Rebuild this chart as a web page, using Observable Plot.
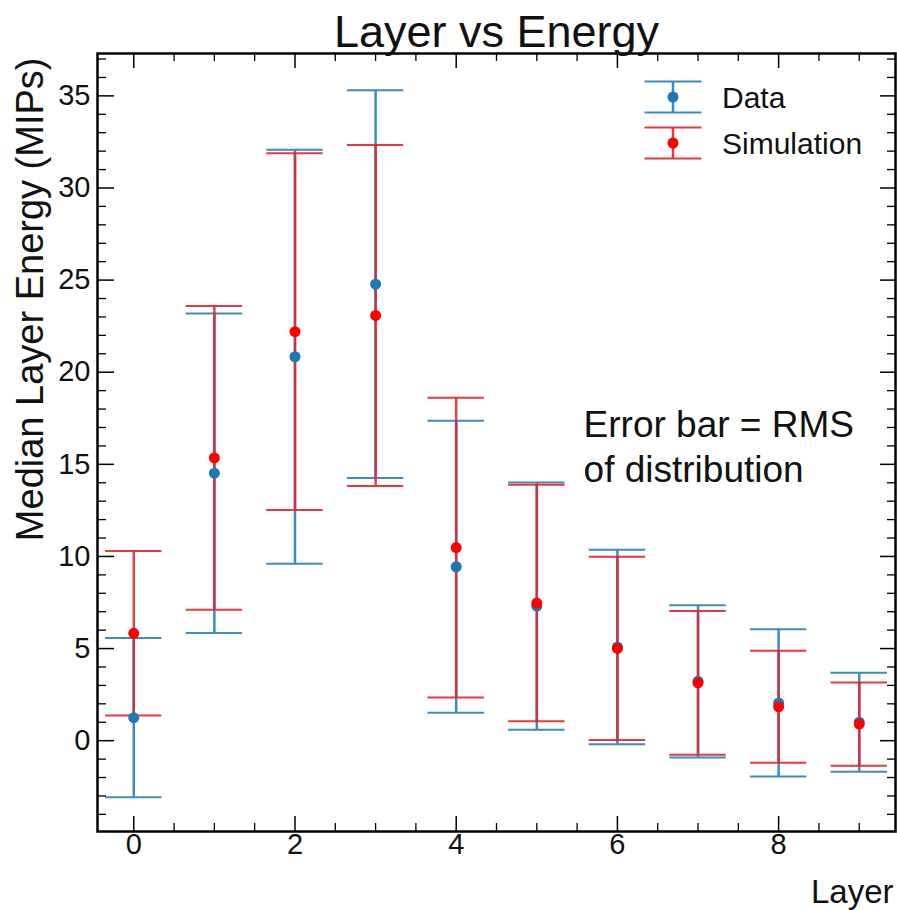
<!DOCTYPE html>
<html>
<head>
<meta charset="utf-8">
<script src="https://cdn.jsdelivr.net/npm/d3@7"></script>
<script src="https://cdn.jsdelivr.net/npm/@observablehq/plot@0.6"></script>
<style>
  html, body { margin: 0; padding: 0; background: white; }
  #chart { width: 897px; height: 910px; }
</style>
</head>
<body>
<div id="chart"></div>
<script>
// ---- data ----
const layers = [0, 1, 2, 3, 4, 5, 6, 7, 8, 9];
const dataMedian = [1.25, 14.52, 20.84, 24.78, 9.44, 7.3, 5.08, 3.22, 2.05, 1.0];
const dataRMS    = [4.32, 8.67, 11.24, 10.52, 7.93, 6.71, 5.28, 4.13, 4.0, 2.69];
const simMedian  = [5.83, 15.35, 22.2, 23.08, 10.48, 7.47, 5.01, 3.14, 1.84, 0.9];
const simRMS     = [4.46, 8.25, 9.68, 9.26, 8.13, 6.42, 4.97, 3.9, 3.04, 2.26];
const seriesNames = ["Data", "Simulation"];
const xTickLabels = [0, 2, 4, 6, 8];
const yTickLabels = [0, 5, 10, 15, 20, 25, 30, 35];
const xMinorTicks = [0.5, 1, 1.5, 2.5, 3, 3.5, 4.5, 5, 5.5, 6.5, 7, 7.5, 8.5, 9];
const yMinorTicks = d3.range(-4, 38).filter(v => v % 5 !== 0);
const annotations = [
  {x: 5.58, y: 17.1, text: "Error bar = RMS"},
  {x: 5.58, y: 14.71, text: "of distribution"}
];
const titleText = "Layer vs Energy";
const xLabel = "Layer";
const yLabel = "Median Layer Energy (MIPs)";

// ---- styles ----
const colors = {
  dataDot: "#1f77b4", dataBar: "#3b8cc2",
  simDot: "#ff0000", simBar: "#e3232b"
};
const W = 897, H = 910;
const mL = 97, mR = 2, mT = 53, mB = 79;
const fw = W - mL - mR, fh = H - mT - mB;
const capHalf = 0.35;
const dotR = 5.5;
const font = "'Liberation Sans', Arial, Helvetica, sans-serif";

// ---- tables built from arrays ----
const rows = layers.map((l, i) => ({
  layer: l,
  dMed: dataMedian[i], dRms: dataRMS[i],
  sMed: simMedian[i], sRms: simRMS[i]
}));
const dataCaps = rows.flatMap(r => [
  {layer: r.layer, v: r.dMed - r.dRms}, {layer: r.layer, v: r.dMed + r.dRms}]);
const simCaps = rows.flatMap(r => [
  {layer: r.layer, v: r.sMed - r.sRms}, {layer: r.layer, v: r.sMed + r.sRms}]);

// legend drawn as a custom render mark
function legendMark() {
  const g = d3.create("svg:g").attr("font-family", font);
  const items = [
    {name: seriesNames[0], dot: colors.dataDot, bar: colors.dataBar, op: 1, cy: 97},
    {name: seriesNames[1], dot: colors.simDot, bar: colors.simBar, op: 0.9, cy: 143}
  ];
  const cx = 673, half = 28.5, eh = 15.5;
  for (const it of items) {
    const s = g.append("g");
    s.append("line").attr("x1", cx).attr("x2", cx).attr("y1", it.cy - eh).attr("y2", it.cy + eh)
      .attr("stroke", it.bar).attr("stroke-width", 2.5).attr("stroke-opacity", it.op);
    for (const dy of [-eh, eh]) {
      s.append("line").attr("x1", cx - half).attr("x2", cx + half)
        .attr("y1", it.cy + dy).attr("y2", it.cy + dy)
        .attr("stroke", it.bar).attr("stroke-width", 2).attr("stroke-opacity", it.op);
    }
    s.append("circle").attr("cx", cx).attr("cy", it.cy).attr("r", dotR).attr("fill", it.dot);
    s.append("text").attr("x", 722).attr("y", it.cy).attr("dy", "0.35em")
      .attr("text-anchor", "start")
      .attr("font-size", 30).attr("fill", "#111").text(it.name);
  }
  return g.node();
}

const chart = Plot.plot({
  width: W, height: H,
  marginLeft: mL, marginRight: mR, marginTop: mT, marginBottom: mB,
  x: {domain: [-0.45, 9.45], axis: null},
  y: {domain: [-4.93, 37.3], axis: null},
  style: {fontFamily: font, background: "white", color: "black", overflow: "visible"},
  marks: [
    // error bars: data
    Plot.ruleX(rows, {x: "layer", y1: d => d.dMed - d.dRms, y2: d => d.dMed + d.dRms,
      stroke: colors.dataBar, strokeWidth: 2.5}),
    Plot.ruleY(dataCaps, {y: "v", x1: d => d.layer - capHalf, x2: d => d.layer + capHalf,
      stroke: colors.dataBar, strokeWidth: 2}),
    // error bars: simulation
    Plot.ruleX(rows, {x: "layer", y1: d => d.sMed - d.sRms, y2: d => d.sMed + d.sRms,
      stroke: colors.simBar, strokeWidth: 2.5, strokeOpacity: 0.85}),
    Plot.ruleY(simCaps, {y: "v", x1: d => d.layer - capHalf, x2: d => d.layer + capHalf,
      stroke: colors.simBar, strokeWidth: 2, strokeOpacity: 0.9}),
    // points
    Plot.dot(rows, {x: "layer", y: "dMed", r: dotR, fill: colors.dataDot}),
    Plot.dot(rows, {x: "layer", y: "sMed", r: dotR, fill: colors.simDot}),

    // inward ticks: bottom & top
    Plot.tickX(xTickLabels, {x: d => d, insetTop: fh - 15, stroke: "black", strokeWidth: 1.5}),
    Plot.tickX(xMinorTicks, {x: d => d, insetTop: fh - 8, stroke: "black", strokeWidth: 1.3}),
    Plot.tickX(xTickLabels, {x: d => d, insetBottom: fh - 15, stroke: "black", strokeWidth: 1.5}),
    Plot.tickX(xMinorTicks, {x: d => d, insetBottom: fh - 8, stroke: "black", strokeWidth: 1.3}),
    // inward ticks: left & right
    Plot.tickY(yTickLabels, {y: d => d, insetRight: fw - 17, stroke: "black", strokeWidth: 1.5}),
    Plot.tickY(yMinorTicks, {y: d => d, insetRight: fw - 9, stroke: "black", strokeWidth: 1.3}),
    Plot.tickY(yTickLabels, {y: d => d, insetLeft: fw - 15, stroke: "black", strokeWidth: 1.5}),
    Plot.tickY(yMinorTicks, {y: d => d, insetLeft: fw - 8, stroke: "black", strokeWidth: 1.3}),

    // tick labels
    Plot.text(xTickLabels, {x: d => d, text: d => String(d), frameAnchor: "bottom",
      dy: 22, fontSize: 29, fill: "#111"}),
    Plot.text(yTickLabels, {y: d => d, text: d => String(d), frameAnchor: "left",
      textAnchor: "end", dx: -7, fontSize: 29, fill: "#111"}),

    // frame
    Plot.frame({stroke: "black", strokeWidth: 2.5}),

    // title & axis labels
    Plot.text([titleText], {frameAnchor: "top", lineAnchor: "bottom", dy: -7,
      fontSize: 45, fill: "#111"}),
    Plot.text([xLabel], {frameAnchor: "bottom-right", textAnchor: "end", lineAnchor: "bottom",
      dx: -2, dy: 71, fontSize: 33, fill: "#111"}),
    Plot.text([yLabel], {frameAnchor: "top-left", rotate: -90, textAnchor: "end",
      lineAnchor: "bottom", dx: -55, dy: 4, fontSize: 38, fill: "#111"}),

    // annotation
    Plot.text(annotations, {x: "x", y: "y", text: "text", textAnchor: "start",
      fontSize: 37, fill: "#111"}),

    // legend
    legendMark
  ]
});
document.getElementById("chart").appendChild(chart);
</script>
</body>
</html>
